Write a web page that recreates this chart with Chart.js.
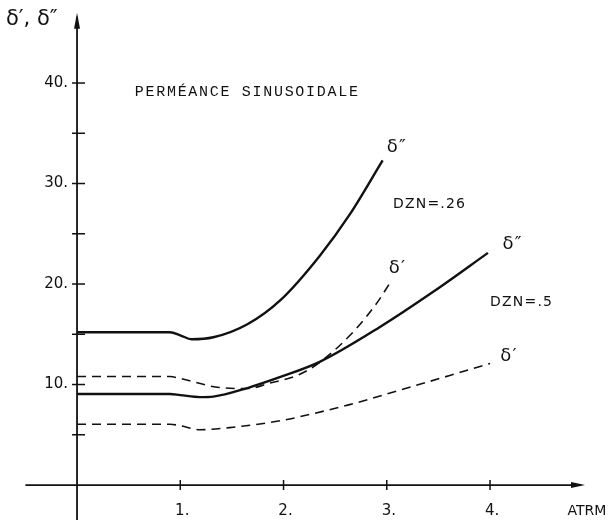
<!DOCTYPE html>
<html lang="fr">

<head>
    <meta charset="UTF-8">
    <title>Perméance sinusoidale</title>
    <!-- Chart.js CDN -->
    <script src="https://cdn.jsdelivr.net/npm/chart.js"></script>
    <style>
        body {
            margin: 0;
            background: #fff;
        }

        canvas {
            display: block;
        }
    </style>
</head>

<body>
    <canvas id="permChart" width="616" height="520"></canvas>

    <script>
        // DZN = .26
        const dzn26SecondX = [0, 0.5, 0.9, 1.0, 1.11, 1.32, 1.65, 1.97, 2.35, 2.64, 2.96];
        const dzn26SecondY = [15.2, 15.2, 15.2, 14.9, 14.5, 14.7, 16.0, 18.4, 22.8, 26.9, 32.3];
        const dzn26FirstX = [0, 0.5, 0.9, 1.0, 1.38, 1.65, 1.87, 2.13, 2.35, 2.69, 2.91, 3.03];
        const dzn26FirstY = [10.8, 10.8, 10.8, 10.6, 9.7, 9.6, 10.15, 10.9, 12.2, 15.4, 18.2, 20.1];

        // DZN = .5
        const dzn5SecondX = [0, 0.5, 0.9, 1.0, 1.19, 1.32, 1.65, 1.97, 2.35, 2.93, 3.46, 3.98];
        const dzn5SecondY = [9.05, 9.05, 9.05, 8.95, 8.75, 8.8, 9.65, 10.75, 12.25, 15.7, 19.3, 23.1];
        const dzn5FirstX = [0, 0.5, 0.9, 1.0, 1.19, 1.51, 2.0, 2.16, 2.64, 3.13, 3.61, 4.0];
        const dzn5FirstY = [6.05, 6.05, 6.05, 5.9, 5.5, 5.75, 6.45, 6.8, 8.0, 9.45, 10.9, 12.1];

        // axes
        const xTicks = [1, 2, 3, 4];
        const xTickLabels = ['1.', '2.', '3.', '4.'];
        const yTicks = [10, 20, 30, 40];
        const yTickLabels = ['10.', '20.', '30.', '40.'];
        const yMinorTicks = [5, 15, 25, 35];

        const toPoints = (xs, ys) => xs.map((x, i) => ({ x: x, y: ys[i] }));

        // hand drawn axes, ticks and notes
        const sketchAxes = {
            id: 'sketchAxes',
            beforeDatasetsDraw(chart) {
                const ctx = chart.ctx;
                const xs = chart.scales.x;
                const ys = chart.scales.y;
                const x0 = xs.getPixelForValue(0);
                const y0 = ys.getPixelForValue(0);

                ctx.save();
                ctx.strokeStyle = '#111';
                ctx.fillStyle = '#111';
                ctx.lineWidth = 1.8;

                // x axis
                const xLeft = xs.getPixelForValue(-0.5);
                const xTip = xs.getPixelForValue(4.92);
                ctx.beginPath();
                ctx.moveTo(xLeft, y0);
                ctx.lineTo(xTip - 4, y0);
                ctx.stroke();
                ctx.beginPath();
                ctx.moveTo(xTip, y0);
                ctx.lineTo(xTip - 14, y0 - 3);
                ctx.lineTo(xTip - 14, y0 + 3);
                ctx.closePath();
                ctx.fill();

                // y axis
                const yBottom = ys.getPixelForValue(-3.5);
                const yTip = ys.getPixelForValue(47);
                ctx.beginPath();
                ctx.moveTo(x0, yBottom);
                ctx.lineTo(x0, yTip + 4);
                ctx.stroke();
                ctx.beginPath();
                ctx.moveTo(x0, yTip);
                ctx.lineTo(x0 - 3, yTip + 16);
                ctx.lineTo(x0 + 3, yTip + 16);
                ctx.closePath();
                ctx.fill();

                // ticks
                ctx.lineWidth = 1.5;
                xTicks.forEach(v => {
                    const px = xs.getPixelForValue(v);
                    ctx.beginPath();
                    ctx.moveTo(px, y0 - 5);
                    ctx.lineTo(px, y0 + 5);
                    ctx.stroke();
                });
                yTicks.concat(yMinorTicks).forEach(v => {
                    const py = ys.getPixelForValue(v);
                    ctx.beginPath();
                    ctx.moveTo(x0 - 5, py);
                    ctx.lineTo(x0 + 8, py);
                    ctx.stroke();
                });

                // tick labels
                ctx.font = '15px "DejaVu Sans"';
                ctx.textBaseline = 'middle';
                ctx.textAlign = 'right';
                yTicks.forEach((v, i) => {
                    ctx.fillText(yTickLabels[i], x0 - 9, ys.getPixelForValue(v));
                });
                ctx.textAlign = 'center';
                xTicks.forEach((v, i) => {
                    ctx.fillText(xTickLabels[i], xs.getPixelForValue(v) + 2, y0 + 26);
                });
                ctx.textAlign = 'left';
                ctx.font = '14px "DejaVu Sans"';
                ctx.fillText('ATRM', xs.getPixelForValue(4.75), y0 + 26);

                // y title
                ctx.font = '21px "DejaVu Sans"';
                ctx.fillText('δ\u2032, δ\u2033', 6, 20);

                // title
                ctx.font = '15px "Liberation Mono"';
                ctx.letterSpacing = '1.7px';
                ctx.fillText('PERMÉANCE SINUSOIDALE', xs.getPixelForValue(0.56), ys.getPixelForValue(39.1));

                // curve notes
                ctx.letterSpacing = '1.2px';
                const notes = [
                    ['δ\u2033', 3.0, 33.6, 18],
                    ['DZN=.26', 3.06, 27.9, 14],
                    ['δ\u2032', 3.02, 21.6, 18],
                    ['δ\u2033', 4.12, 23.9, 18],
                    ['DZN=.5', 4.0, 18.2, 14],
                    ['δ\u2032', 4.1, 12.8, 18]
                ];
                notes.forEach(n => {
                    ctx.font = n[3] + 'px "DejaVu Sans"';
                    ctx.fillText(n[0], xs.getPixelForValue(n[1]), ys.getPixelForValue(n[2]));
                });
                ctx.letterSpacing = '0px';

                ctx.restore();
            }
        };

        const solid = {
            borderColor: '#111',
            borderWidth: 2.4,
            pointRadius: 0,
            fill: false,
            cubicInterpolationMode: 'monotone'
        };
        const dashed = {
            borderColor: '#111',
            borderWidth: 1.6,
            borderDash: [9, 6],
            pointRadius: 0,
            fill: false,
            cubicInterpolationMode: 'monotone'
        };

        const ctx = document.getElementById('permChart').getContext('2d');
        new Chart(ctx, {
            type: 'line',
            data: {
                datasets: [
                    Object.assign({ label: 'δ″ DZN=.26', data: toPoints(dzn26SecondX, dzn26SecondY) }, solid),
                    Object.assign({ label: 'δ′ DZN=.26', data: toPoints(dzn26FirstX, dzn26FirstY) }, dashed),
                    Object.assign({ label: 'δ″ DZN=.5', data: toPoints(dzn5SecondX, dzn5SecondY) }, solid),
                    Object.assign({ label: 'δ′ DZN=.5', data: toPoints(dzn5FirstX, dzn5FirstY) }, dashed)
                ]
            },
            options: {
                responsive: false,
                animation: false,
                layout: { padding: 0 },
                plugins: {
                    legend: { display: false },
                    tooltip: { enabled: false }
                },
                scales: {
                    x: { type: 'linear', display: false, min: -0.746, max: 5.22 },
                    y: { type: 'linear', display: false, min: -3.48, max: 48.26 }
                }
            },
            plugins: [sketchAxes]
        });
    </script>
</body>

</html>
